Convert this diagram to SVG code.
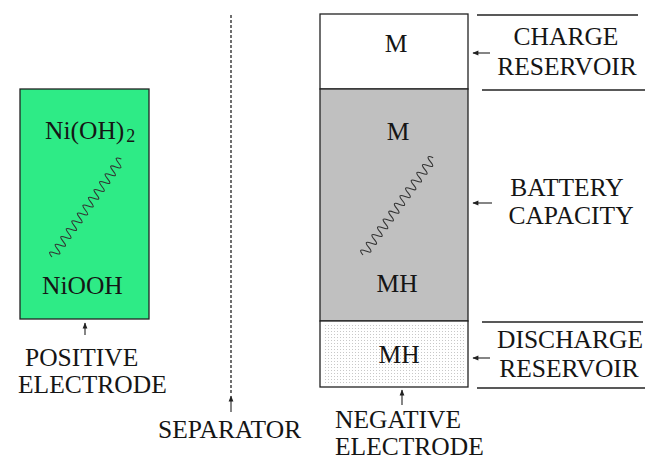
<svg xmlns="http://www.w3.org/2000/svg" width="646" height="460" viewBox="0 0 646 460">
<style>
text{font-family:"Liberation Serif","Times New Roman",serif;font-size:25.5px;fill:#151515}
.box{stroke:#222;stroke-width:1.3}
.ln{stroke:#222;stroke-width:1.4;fill:none}
.spring{fill:none;stroke:#333;stroke-width:1.1}
.arr{stroke:#222;stroke-width:1.1;fill:none;marker-end:url(#ah)}
</style>
<defs>
<marker id="ah" viewBox="0 0 10 10" refX="9" refY="5" markerWidth="7" markerHeight="6" markerUnits="userSpaceOnUse" orient="auto">
<path d="M0,1 L10,5 L0,9 Z" fill="#222"/>
</marker>
<pattern id="dots" width="3" height="3" patternUnits="userSpaceOnUse">
<rect width="3" height="3" fill="#fff"/>
<rect x="1" y="1" width="1" height="1" fill="#c8c8c8"/>
</pattern>
</defs>

<g id="positive-electrode">
<rect class="box" x="20" y="89" width="129" height="230" fill="#2eeb86"/>
<text x="45" y="139">Ni(OH)<tspan font-size="18" dx="2" dy="3">2</tspan></text>
<path class="spring" transform="translate(52,257) rotate(-54.7)" d="M0,0 q2.4,-9 4.8,0 t4.8,0 t4.8,0 t4.8,0 t4.8,0 t4.8,0 t4.8,0 t4.8,0 t4.8,0 t4.8,0 t4.8,0 t4.8,0 t4.8,0 t4.8,0 t4.8,0 t4.8,0 t4.8,0 t4.8,0 t4.8,0 t4.8,0 t4.8,0 t4.8,0 t4.8,0 t4.8,0 t4.8,0"/>
<text x="42" y="294">NiOOH</text>
</g>

<g id="positive-label">
<text x="25" y="366">POSITIVE</text>
<text x="18" y="393">ELECTRODE</text>
</g>

<g id="separator">
<line x1="231" y1="15" x2="231" y2="393" stroke="#222" stroke-width="1.3" stroke-dasharray="3,2"/>
</g>
<g id="separator-label">
<text x="158" y="438">SEPARATOR</text>
</g>

<g id="negative-electrode">
<rect class="box" x="320" y="14" width="148" height="75" fill="#fff"/>
<rect class="box" x="320" y="89" width="148" height="232" fill="#c0c0c0"/>
<rect class="box" x="320" y="321" width="148" height="66" fill="#fff"/>
<rect x="325" y="324" width="139" height="59" fill="url(#dots)"/>
<text x="396" y="52" text-anchor="middle">M</text>
<text x="398" y="140" text-anchor="middle">M</text>
<path class="spring" transform="translate(363,255) rotate(-54.2)" d="M0,0 q2.4,-9 4.8,0 t4.8,0 t4.8,0 t4.8,0 t4.8,0 t4.8,0 t4.8,0 t4.8,0 t4.8,0 t4.8,0 t4.8,0 t4.8,0 t4.8,0 t4.8,0 t4.8,0 t4.8,0 t4.8,0 t4.8,0 t4.8,0 t4.8,0 t4.8,0 t4.8,0 t4.8,0 t4.8,0 t4.8,0"/>
<text x="397" y="292" text-anchor="middle">MH</text>
<text x="399" y="363" text-anchor="middle">MH</text>
</g>

<g id="negative-label">
<text x="335" y="428">NEGATIVE</text>
<text x="335" y="455">ELECTRODE</text>
</g>

<g id="charge-reservoir">
<line class="ln" x1="477" y1="15" x2="638" y2="15"/>
<line class="ln" x1="482" y1="90" x2="645" y2="90"/>
<text x="566" y="45" text-anchor="middle">CHARGE</text>
<text x="567" y="75" text-anchor="middle">RESERVOIR</text>
</g>

<g id="battery-capacity">
<text x="567" y="196" text-anchor="middle">BATTERY</text>
<text x="571" y="224" text-anchor="middle">CAPACITY</text>
</g>

<g id="discharge-reservoir">
<line class="ln" x1="482" y1="322" x2="643" y2="322"/>
<line class="ln" x1="477" y1="388" x2="645" y2="388"/>
<text x="570" y="348" text-anchor="middle">DISCHARGE</text>
<text x="569" y="377" text-anchor="middle">RESERVOIR</text>
</g>

<g id="connectors">
<line class="arr" x1="85" y1="335" x2="85" y2="323"/>
<line class="arr" x1="231" y1="412" x2="231" y2="396"/>
<line class="arr" x1="402" y1="405" x2="402" y2="390"/>
<line class="arr" x1="490" y1="53" x2="473" y2="53"/>
<line class="arr" x1="492" y1="203" x2="473" y2="203"/>
<line class="arr" x1="490" y1="358" x2="473" y2="358"/>
</g>
</svg>
